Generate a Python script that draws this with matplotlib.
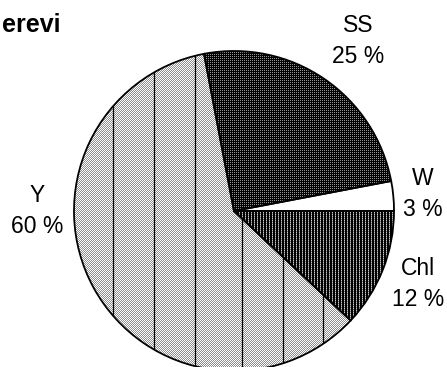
import numpy as np
import matplotlib
matplotlib.use("Agg")
import matplotlib.pyplot as plt

plt.rcParams['font.family'] = ['Liberation Sans', 'DejaVu Sans']

# Species shares (percent)
labels = ["Chl", "Y", "SS", "W"]
shares = [12, 60, 25, 3]
title_text = "erevi"

W_PX, H_PX = 447, 367
fig = plt.figure(figsize=(W_PX / 100, H_PX / 100), dpi=100)
ax = fig.add_axes([0, 0, 1, 1])

cx, cy, R = 234, H_PX - 211, 160

# Pixel textures for the fills
yy, xx = np.mgrid[0:H_PX, 0:W_PX]
def tex_light():
    return np.where((xx + yy) % 2 == 0, 255, 140)
def tex_dark():
    return np.where((xx % 2 == 0) & (yy % 2 == 0), 150, 0)
def tex_stripes():
    return np.where(xx % 3 == 2, np.where(yy % 2 == 0, 200, 110), 0)
def tex_white():
    return np.full((H_PX, W_PX), 255)

textures = {"Chl": tex_stripes, "Y": tex_light, "SS": tex_dark, "W": tex_white}
avg = {"Chl": "#404040", "Y": "#c4c4c4", "SS": "#282828", "W": "white"}

def fix_axes():
    ax.set_xlim(0, W_PX)
    ax.set_ylim(0, H_PX)
    ax.set_aspect('equal')
    ax.axis('off')

wedges, _ = ax.pie(shares, radius=R, center=(cx, cy), startangle=0,
                   counterclock=False, colors=[avg[l] for l in labels],
                   wedgeprops=dict(linewidth=0), frame=True)
fix_axes()

for lab, w in zip(labels, wedges):
    arr = textures[lab]().astype(float) / 255.0
    rgb = np.dstack([arr, arr, arr])
    im = ax.imshow(rgb, extent=(0, W_PX, 0, H_PX), origin='upper',
                   interpolation='nearest', zorder=2)
    im.set_clip_path(w)

# Vertical rules across the Y slice
y_wedge = wedges[labels.index("Y")]
for x in [113, 154, 195, 242, 283, 323]:
    ln, = ax.plot([x, x], [0, H_PX], color='black', lw=0.9, zorder=3)
    ln.set_clip_path(y_wedge)

# Outlines on top
outl, _ = ax.pie(shares, radius=R, center=(cx, cy), startangle=0,
                 counterclock=False,
                 wedgeprops=dict(fill=False, edgecolor='black', linewidth=1.3),
                 frame=True)
for w in outl:
    w.set_zorder(4)
fix_axes()

# Category labels with percentages
label_pos = {"SS": (358, 32), "W": (423, 185), "Chl": (418, 275), "Y": (37.5, 202)}
for lab, val in zip(labels, shares):
    x, yb = label_pos[lab]
    ax.text(x, H_PX - yb, lab, ha='center', va='baseline', fontsize=16.5, zorder=5)
    ax.text(x, H_PX - yb - 31, f"{val} %", ha='center', va='baseline',
            fontsize=16.5, zorder=5)

ax.text(2, H_PX - 32, title_text, ha='left', va='baseline', fontsize=18,
        fontweight='bold', zorder=5)

fig.savefig("out.png", dpi=100)
